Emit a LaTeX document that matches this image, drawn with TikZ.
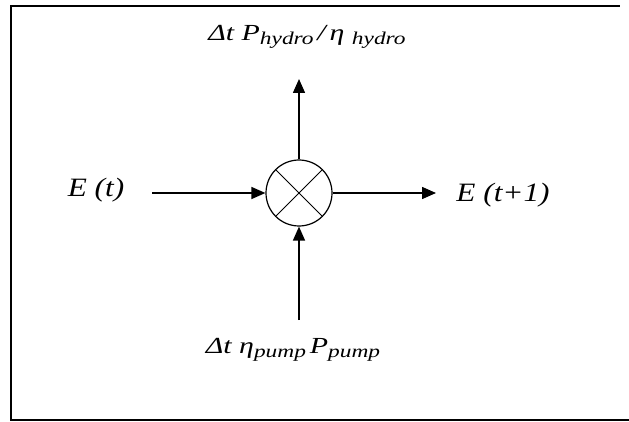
\documentclass[tikz,border=0pt]{standalone}
\usepackage{fontspec}
\setmainfont{Liberation Serif}
\newfontfamily\widefont[FakeStretch=1.3]{Liberation Serif}
\newfontfamily\midfont[FakeStretch=1.18]{Liberation Serif}
\usetikzlibrary{arrows.meta, positioning, shapes.geometric}
\newcommand{\sub}[1]{\raisebox{-0.2em}{\fontsize{18}{21}\selectfont #1}}
\tikzset{
    mixer/.style={
        draw,
        circle,
        line width=1.2pt,
        minimum size=66pt,
        inner sep=0pt
    },
    flow/.style={-{Triangle[width=12pt,length=14pt]}, line width=1.5pt},
    biglabel/.style={font=\midfont\fontsize{26.5}{30}\selectfont\itshape, inner sep=0pt},
    smalllabel/.style={font=\widefont\fontsize{23}{27}\selectfont\itshape, inner sep=0pt},
    frame/.style={line width=2pt}
}
\begin{document}
\begin{tikzpicture}[x=1pt, y=1pt]
\useasboundingbox (0,0) rectangle (629,421);
% outer frame
\draw[frame] (629,1) -- (11,1) -- (11,415) -- (620,415);

\node[mixer] (mix) at (299,228) {};
\draw[line width=1pt] (mix.north west) -- (mix.south east);
\draw[line width=1pt] (mix.north east) -- (mix.south west);

% labels
\node[biglabel] (et) at (96,231) {E (t)};
\node[biglabel] (etnext) at (503,226) {E (t+1)};
\node[smalllabel] (hydro) at (307,384) {Δt P\sub{hydro}\,/\,η \sub{hydro}};
\node[smalllabel] (pump) at (293,71) {Δt η\sub{pump}\,P\sub{pump}};

% free ends of the arrows
\coordinate (inleft) at (152,228);
\coordinate (outright) at (436,228);
\coordinate (outup) at (299,342);
\coordinate (indown) at (299,101);

\draw[flow] (inleft) -- (mix.west);
\draw[flow] (mix.east) -- (outright);
\draw[flow] (mix.north) -- (outup);
\draw[flow] (indown) -- (mix.south);
\end{tikzpicture}
\end{document}
